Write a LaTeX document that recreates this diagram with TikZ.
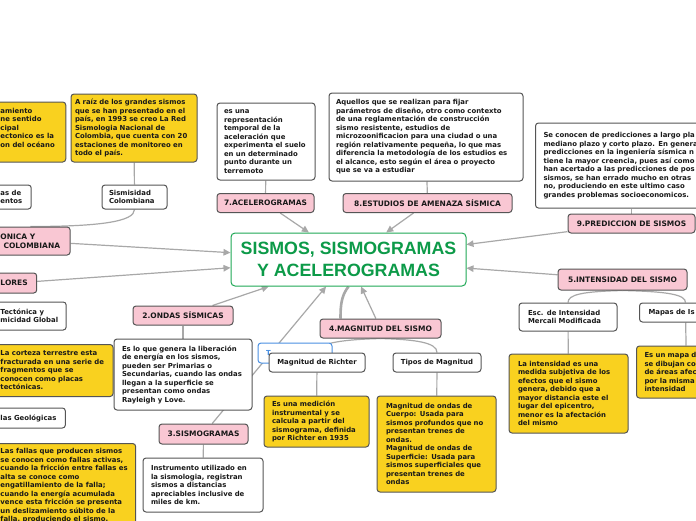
\documentclass[tikz,border=0pt]{standalone}
\usepackage{fontspec}
\setmainfont{DejaVu Sans}
\newfontfamily\titlefam{Liberation Sans}
\usetikzlibrary{arrows.meta, backgrounds}

\definecolor{mmpink}{HTML}{F9C7D3}
\definecolor{mmyellow}{HTML}{F9D11F}
\definecolor{mmedge}{HTML}{555555}
\definecolor{mmline}{HTML}{A8A8A8}
\definecolor{mmgreen}{HTML}{1FA855}
\definecolor{mmtitle}{HTML}{0C9A48}
\definecolor{mmblue}{HTML}{4A90E2}

\newcommand{\boxfont}{\bfseries\fontsize{6.9pt}{8.5pt}\selectfont}
\newcommand{\topicfont}{\bfseries\fontsize{7.5pt}{9pt}\selectfont}
\newcommand{\titlefont}{\titlefam\bfseries\fontsize{17.8pt}{21.3pt}\selectfont}

\begin{document}
\begin{tikzpicture}[x=1pt, y=-1pt,
  wbox/.style={draw=mmedge, line width=1pt, fill=white, rounded corners=3pt, align=left, font=\boxfont, inner xsep=7pt, inner ysep=3pt, text=black!90},
  ybox/.style={wbox, fill=mmyellow},
  pbox/.style={draw=mmedge, line width=1pt, fill=mmpink, rounded corners=3pt, align=center, font=\topicfont, inner sep=2pt, text=black!90},
  link/.style={draw=mmline, line width=1.2pt},
  trunk/.style={draw=mmline, line width=2.6pt},
  rel/.style={link, -{Triangle[length=7pt, width=6.5pt]}}]
\useasboundingbox (0,0) rectangle (696,520);

% central topic
\node[draw=mmgreen, line width=1pt, fill=white, rounded corners=4pt, minimum width=235pt, minimum height=53pt, align=center, text=mmtitle, font=\titlefont] (root) at (348.5,259.5) {SISMOS, SISMOGRAMAS\\Y ACELEROGRAMAS};

% main topics
\node[pbox, minimum width=97pt, minimum height=19pt] (acel) at (265.5,203) {7.ACELEROGRAMAS};
\node[pbox, minimum width=169pt, minimum height=19pt] (amen) at (427.5,203) {8.ESTUDIOS DE AMENAZA SÍSMICA};
\node[pbox, minimum width=127pt, minimum height=19pt] (pred) at (631.5,223.5) {9.PREDICCION DE SISMOS};
\node[pbox, minimum width=129pt, minimum height=21pt] (inten) at (622.5,279.5) {5.INTENSIDAD DEL SISMO};
\node[pbox, minimum width=121pt, minimum height=19pt] (magn) at (380.5,328.5) {4.MAGNITUD DEL SISMO};
\node[pbox, minimum width=100pt, minimum height=19pt] (ondas) at (183,315.5) {2.ONDAS SÍSMICAS};
\node[pbox, minimum width=89pt, minimum height=20pt] (sismog) at (203.5,434) {3.SISMOGRAMAS};
\node[pbox, anchor=west, align=left, inner xsep=10pt, minimum height=28pt] (tecto) at (-10,241) {ONICA Y\\\hspace*{3pt}COLOMBIANA};
\node[pbox, anchor=west, inner xsep=9pt, minimum height=20pt] (valor) at (-9,283) {LORES};

% sub topics, top row
\node[wbox, text width=84pt, minimum height=77pt] (acelT) at (266,141.5) {es una\\representación\\temporal de la\\aceleración que\\experimenta el suelo\\en un determinado\\punto durante un\\terremoto};
\node[wbox, text width=180pt, minimum height=88pt] (amenT) at (426,137) {Aquellos que se realizan para fijar\\parámetros de diseño, otro como contexto\\de una reglamentación de construcción\\sismo resistente, estudios de\\microzoonificacion para una ciudad o una\\región relativamente pequeña, lo que mas\\diferencia la metodología de los estudios es\\el alcance, esto según el área o proyecto\\que se va a estudiar};
\node[wbox, anchor=west, text width=200pt, inner xsep=8pt, minimum height=85pt] (predT) at (535,165.5) {Se conocen de predicciones a largo pla\\mediano plazo y corto plazo. En genera\\predicciones en la ingeniería sísmica n\\tiene la mayor creencia, pues así como\\han acertado a las predicciones de pos\\sismos, se han errado mucho en otras\\no, produciendo en este ultimo caso\\grandes problemas socioeconomicos.};
\node[ybox, text width=118pt, inner xsep=4pt, minimum height=68pt] (redT) at (134,128) {A raíz de los grandes sismos\\que se han presentado en el\\país, en 1993 se creo La Red\\Sismologia Nacional de\\Colombia, que cuenta con 20\\estaciones de monitoreo en\\todo el país.};
\node[wbox, text width=51pt, minimum height=24pt] (sisCo) at (134.5,197) {Sismisidad\\Colombiana};
\node[ybox, anchor=west, inner xsep=11pt, minimum height=60pt] (acopl) at (-11,132) {amiento\\ne sentido\\cipal\\ectonico es la\\on del océano\\\mbox{}};
\node[wbox, anchor=west, inner xsep=9pt, minimum height=24pt] (datos) at (-9,197) {as de\\entos};

% sub topics, left column
\node[wbox, anchor=west, inner xsep=8pt, minimum height=28pt] (global) at (-8,316) {Tectónica y\\micidad Global};
\node[ybox, anchor=west, inner xsep=9pt, minimum height=52pt] (placas) at (-9,370.5) {La corteza terrestre esta\\fracturada en una serie de\\fragmentos que se\\conocen como placas\\tectónicas.};
\node[wbox, anchor=west, inner xsep=9pt, minimum height=20pt] (fallas) at (-9,418) {las Geológicas};
\node[ybox, anchor=north west, inner xsep=8pt, inner ysep=5pt] (activas) at (-8,443) {Las fallas que producen sismos\\se conocen como fallas activas,\\cuando la fricción entre fallas es\\alta se conoce como\\engatillamiento de la falla;\\cuando la energía acumulada\\vence esta fricción se presenta\\un deslizamiento súbito de la\\falla, produciendo el sismo.};

% sub topics, bottom
\node[wbox, text width=122pt, inner xsep=8pt, minimum height=71pt] (ondasT) at (183,374.5) {Es lo que genera la liberación\\de energía en los sismos,\\pueden ser Primarias o\\Secundarias, cuando las ondas\\llegan a la superficie se\\presentan como ondas\\Rayleigh y Love.};
\node[wbox, text width=104pt, inner xsep=8pt, minimum height=54pt] (instr) at (203,485) {Instrumento utilizado en\\la sismologia, registran\\sismos a distancias\\apreciables inclusive de\\miles de km.};
\node[draw=mmblue, line width=1pt, fill=white, rounded corners=3pt, text=mmblue, font=\boxfont, align=left, text width=58pt, inner xsep=8pt, minimum height=20pt] (nuevo) at (295,353) {T};
\node[wbox, minimum width=96pt, minimum height=19pt, align=center] (richter) at (317,362.5) {Magnitud de Richter};
\node[wbox, minimum width=88pt, minimum height=19pt, align=center] (tipos) at (437,362.5) {Tipos de Magnitud};
\node[ybox, text width=89pt, inner xsep=8pt, minimum height=51pt] (richT) at (316.5,421.5) {Es una medición\\instrumental y se\\calcula a partir del\\sismograma, definida\\por Richter en 1935};
\node[ybox, text width=101pt, inner xsep=9pt, minimum height=96pt] (tiposT) at (436.5,444) {Magnitud de ondas de\\Cuerpo: Usada para\\sismos profundos que no\\presentan trenes de\\ondas.\\Magnitud de ondas de\\Superficie: Usada para\\sismos superficiales que\\presentan trenes de\\ondas};

% sub topics, right
\node[wbox, text width=80pt, inner xsep=9pt, minimum height=28pt] (merc) at (568,317) {Esc. de Intensidad\\Mercali Modificada};
\node[wbox, anchor=west, text width=74pt, inner xsep=9pt, minimum height=19pt] (iso) at (639,312.5) {Mapas de Is};
\node[ybox, text width=101pt, inner xsep=9pt, minimum height=79pt] (mercT) at (568.5,393.5) {La intensidad es una\\medida subjetiva de los\\efectos que el sismo\\genera, debido que a\\mayor distancia este el\\lugar del epicentro,\\menor es la afectación\\del mismo};
\node[ybox, anchor=west, text width=84pt, inner xsep=8pt, minimum height=52pt] (isoT) at (636,372) {Es un mapa d\\se dibujan co\\de áreas afec\\por la misma\\intensidad};

\begin{scope}[on background layer]
\fill[white] (0,0) rectangle (696,520);
% relationships to the central topic
\foreach \t in {acel, amen, pred, inten, magn, ondas, sismog, tecto, valor}
  \draw[rel] (\t) -- (root);
% branches
\draw[trunk] (root.south) .. controls +(-7,9) and +(0,-14) .. ([xshift=-40pt]magn.north);
\draw[link] (magn.south) .. controls +(-35,1) and +(0,-10) .. (richter.north);
\draw[link] (magn.south) .. controls +(35,1) and +(0,-10) .. (tipos.north);
\draw[link] (inten.south) .. controls +(-40,1) and +(0,-8) .. (merc.north);
\draw[link] (inten.south) .. controls +(45,1) and +(0,-8) .. (iso.north);
\draw[link] (tecto.north) .. controls +(70,0) and +(0,12) .. (sisCo.south);
% straight links
\draw[link] (pred.north) -- (pred.north |- predT.south);
\foreach \a/\b in {acel/acelT, amen/amenT, redT/sisCo, ondas/ondasT, sismog/instr, richter/richT, tipos/tiposT, merc/mercT, iso/isoT}
  \draw[link] (\a) -- (\b);
\end{scope}
\end{tikzpicture}
\end{document}
